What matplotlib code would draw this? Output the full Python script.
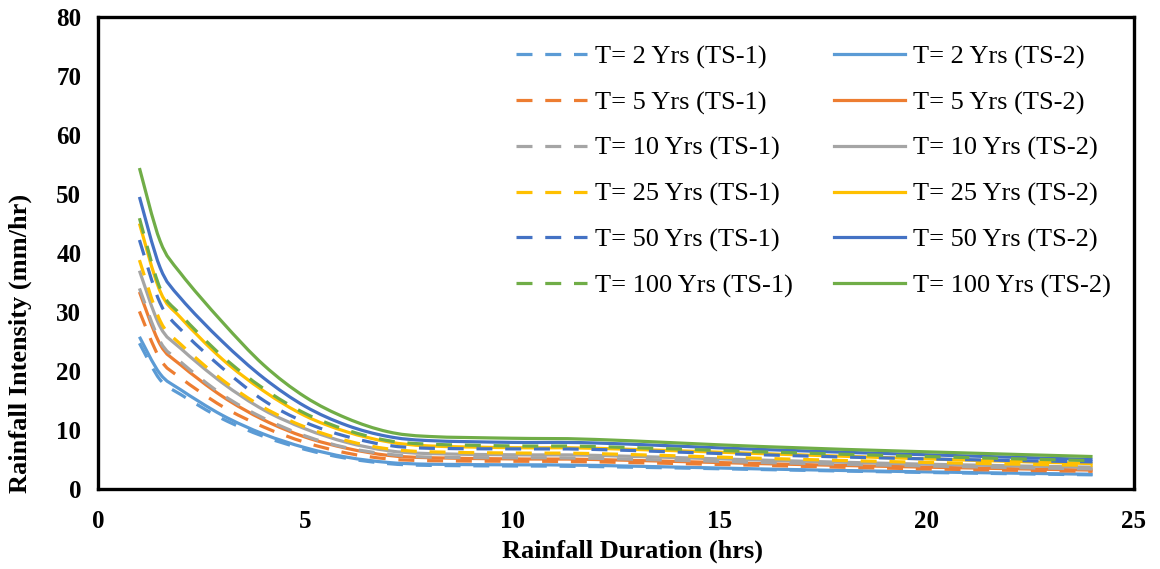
import numpy as np
import matplotlib.pyplot as plt
from matplotlib.path import Path
from matplotlib.patches import PathPatch
from matplotlib.lines import Line2D

plt.rcParams['font.family'] = ['Liberation Serif', 'DejaVu Serif']

duration = [1, 1.5, 2, 3, 4, 5, 6, 7, 8, 10, 12, 16, 20, 24]

# rainfall intensity (mm/hr), TS-1 = dashed, TS-2 = solid
t2_ts1 = [24.7, 18.5, 16.0, 11.9, 8.9, 6.7, 5.2, 4.3, 4.0, 3.9, 3.8, 3.3, 2.8, 2.4]
t2_ts2 = [25.8, 19.5, 16.8, 12.5, 9.3, 7.0, 5.4, 4.5, 4.2, 4.1, 4.0, 3.4, 2.9, 2.5]
t5_ts1 = [30.1, 22.0, 18.8, 14.0, 10.5, 7.9, 6.1, 5.1, 4.8, 4.7, 4.6, 4.0, 3.4, 3.0]
t5_ts2 = [33.4, 24.5, 21.0, 15.7, 11.7, 8.8, 6.9, 5.7, 5.3, 5.1, 5.0, 4.3, 3.7, 3.2]
t10_ts1 = [34.0, 25.0, 21.5, 16.0, 12.0, 9.0, 7.0, 5.9, 5.4, 5.3, 5.2, 4.5, 3.9, 3.4]
t10_ts2 = [37.0, 27.5, 23.8, 18.0, 13.4, 10.2, 7.9, 6.5, 6.0, 5.8, 5.7, 4.9, 4.2, 3.7]
t25_ts1 = [38.8, 28.5, 24.5, 18.5, 13.8, 10.5, 8.2, 6.8, 6.3, 6.1, 6.0, 5.2, 4.5, 4.0]
t25_ts2 = [45.0, 33.5, 29.0, 22.0, 16.6, 12.4, 9.7, 8.0, 7.3, 7.0, 6.9, 6.0, 5.1, 4.3]
t50_ts1 = [42.2, 31.5, 27.0, 20.5, 15.0, 11.3, 8.9, 7.4, 6.9, 6.8, 6.7, 5.8, 5.1, 4.6]
t50_ts2 = [49.5, 37.5, 32.3, 25.0, 18.8, 14.0, 10.8, 8.9, 8.2, 7.9, 7.8, 6.7, 5.8, 5.0]
t100_ts1 = [45.9, 34.0, 29.5, 22.5, 17.0, 12.8, 10.0, 8.2, 7.6, 7.3, 7.2, 6.3, 5.5, 4.8]
t100_ts2 = [54.4, 42.0, 36.5, 28.3, 21.0, 15.6, 12.0, 9.7, 8.9, 8.6, 8.4, 7.2, 6.3, 5.5]

periods = ['2', '5', '10', '25', '50', '100']
ts1 = [t2_ts1, t5_ts1, t10_ts1, t25_ts1, t50_ts1, t100_ts1]
ts2 = [t2_ts2, t5_ts2, t10_ts2, t25_ts2, t50_ts2, t100_ts2]
colors = ['#5B9BD5', '#ED7D31', '#A5A5A5', '#FFC000', '#4472C4', '#70AD47']

LW = 2.3
DASH = (0, (5, 4))


def smooth_path(x, y):
    # excel-style smoothed line: cubic bezier through every point
    pts = np.column_stack([x, y]).astype(float)
    n = len(pts)
    verts = [pts[0]]
    codes = [Path.MOVETO]
    for i in range(n - 1):
        p0 = pts[max(i - 1, 0)]
        p1 = pts[i]
        p2 = pts[i + 1]
        p3 = pts[min(i + 2, n - 1)]
        verts += [p1 + (p2 - p0) / 6, p2 - (p3 - p1) / 6, p2]
        codes += [Path.CURVE4] * 3
    return Path(verts, codes)


fig = plt.figure(figsize=(11.6, 5.69), dpi=100)
ax = fig.add_axes([98 / 1160, 80 / 569, 1036 / 1160, 472 / 569])

z = 2
for c, a, b in zip(colors, ts1, ts2):
    ax.add_patch(PathPatch(smooth_path(duration, a), fill=False, edgecolor=c,
                           lw=LW, linestyle=DASH, capstyle='butt', zorder=z))
    ax.add_patch(PathPatch(smooth_path(duration, b), fill=False, edgecolor=c,
                           lw=LW, capstyle='butt', zorder=z + 1))
    z += 2

ax.set_xlim(0, 25)
ax.set_ylim(0, 80)
ax.set_xticks(range(0, 26, 5))
ax.set_yticks(range(0, 81, 10))
ax.tick_params(length=0, labelsize=18)
ax.tick_params(axis='x', pad=15)
ax.tick_params(axis='y', pad=12)
for lab in ax.get_xticklabels() + ax.get_yticklabels():
    lab.set_fontweight('bold')
for sp in ax.spines.values():
    sp.set_linewidth(2.4)
    sp.set_color('black')

fig.text(632 / 1160, 18 / 569, 'Rainfall Duration (hrs)', ha='center', va='center',
         fontsize=19, fontweight='bold')
fig.text(20 / 1160, 226 / 569, 'Rainfall Intensity (mm/hr)', ha='center', va='center',
         rotation=90, fontsize=19, fontweight='bold')

# legend: first column TS-1, second column TS-2
handles = []
labels = []
for c, p in zip(colors, periods):
    handles.append(Line2D([], [], color=c, lw=LW, linestyle=DASH, dash_capstyle='butt'))
    labels.append(f'T= {p} Yrs (TS-1)')
for c, p in zip(colors, periods):
    handles.append(Line2D([], [], color=c, lw=LW))
    labels.append(f'T= {p} Yrs (TS-2)')

ax.legend(handles, labels, ncol=2, loc='upper left', frameon=False,
          bbox_to_anchor=(516 / 1160, 1 - 45 / 569), bbox_transform=fig.transFigure,
          fontsize=19, handlelength=2.7, handletextpad=0.3, columnspacing=1.55,
          labelspacing=0.83, borderpad=0, borderaxespad=0)

fig.savefig('out.png', dpi=100)
